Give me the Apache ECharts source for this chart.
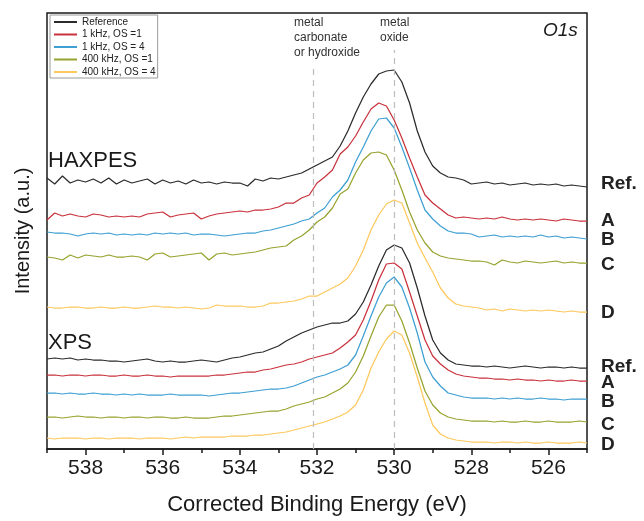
<!DOCTYPE html>
<html>
<head>
<meta charset="utf-8">
<title>O1s HAXPES / XPS</title>
<script src="https://cdn.jsdelivr.net/npm/echarts@6/dist/echarts.min.js"></script>
<style>
    html, body { margin: 0; padding: 0; background: #fff; }
    #chartMain { width: 644px; height: 521px; }
</style>
</head>
<body>
<div id="chartMain"></div>
<script>
    // binding energy grid (eV), shared by all curves
    const energy = [539.0,538.8,538.6,538.4,538.2,538.0,537.8,537.6,537.4,537.2,537.0,536.8,536.6,536.4,536.2,536.0,
        535.8,535.6,535.4,535.2,535.0,534.8,534.6,534.4,534.2,534.0,533.8,533.6,533.4,533.2,533.0,532.8,532.6,532.4,
        532.2,532.0,531.8,531.6,531.4,531.2,531.0,530.8,530.6,530.4,530.2,530.0,529.8,529.6,529.4,529.2,529.0,528.8,
        528.6,528.4,528.2,528.0,527.8,527.6,527.4,527.2,527.0,526.8,526.6,526.4,526.2,526.0,525.8,525.6,525.4,525.2,525.0];

    // HAXPES curves (offset intensity, a.u.)
    const haxRef = [271,265,273,266,269,267,270,266,271,265,269,266,268,270,265,269,266,268,265,269,266,267,265,267,266,
        266,263,270,268,271,270,272,274,276,280,284,288,292,303,318,336,352,365,375,378,379,367,346,318,297,283,276,272,271,269,265,266,
        267,265,266,264,265,266,264,265,264,265,263,264,263,262];
    const haxA = [229,236,233,235,233,232,235,234,232,233,232,233,232,235,236,237,232,234,235,236,230,233,235,236,237,
        238,237,239,239,240,242,246,246,251,254,266,272,279,295,302,313,327,340,346,343,329,311,291,272,254,246,240,234,231,232,231,230,
        231,230,232,230,229,230,229,230,229,228,230,229,228,228];
    const haxB = [217,216,216,215,213,215,216,215,216,214,215,214,215,214,216,215,216,215,216,214,215,215,214,213,214,
        215,216,216,218,219,221,223,225,228,230,236,241,252,259,269,287,302,318,330,331,321,302,281,259,239,230,223,218,216,216,215,212,
        213,214,212,213,212,213,212,214,212,213,211,212,211,210];
    const haxC = [192,191,189,194,191,194,193,192,194,192,192,193,192,189,195,196,192,193,194,195,196,189,195,196,194,
        195,196,197,199,201,202,203,209,213,219,227,232,241,255,260,276,289,296,297,294,279,259,237,219,206,197,193,191,190,189,188,188,
        187,184,189,187,186,188,187,186,187,188,186,187,186,186];
    const haxD = [142,141,141,142,142,141,141,142,141,141,142,141,141,142,143,142,142,141,142,141,140,141,144,143,143,
        143,142,142,143,146,146,147,148,150,153,153,157,161,165,171,183,199,219,234,245,249,246,226,206,191,177,161,151,145,143,142,141,
        139,140,138,140,139,138,139,138,139,138,137,138,137,137];

    // XPS curves
    const xpsRef = [90,91,90,91,89,90,89,89,88,88,87,88,89,90,88,87,88,87,87,88,89,88,87,89,91,
        92,94,96,97,100,103,108,112,116,119,122,124,126,126,128,135,147,164,183,199,204,201,186,161,133,109,96,89,85,84,83,83,
        82,83,82,81,82,83,82,81,82,82,81,82,81,81];
    const xpsA = [74,74,73,74,74,73,74,74,73,73,74,73,73,74,73,73,72,73,73,73,73,73,74,74,75,
        76,77,77,79,80,82,84,85,87,90,92,94,96,101,107,114,129,148,169,185,186,180,157,133,109,93,85,79,75,73,72,71,
        71,70,70,69,70,69,69,68,69,68,68,69,68,68];
    const xpsB = [56,56,55,56,55,55,56,55,55,54,55,54,55,54,54,54,55,54,54,54,54,53,54,55,56,
        56,57,58,59,60,60,61,63,66,69,72,74,77,80,84,94,113,133,152,166,172,162,141,116,87,72,63,56,54,52,51,51,
        51,50,51,50,51,50,50,51,50,50,49,50,50,50];
    const xpsC = [32,32,31,32,33,32,32,31,32,32,31,32,32,31,32,32,31,31,32,31,31,31,32,33,33,
        34,35,36,37,38,38,40,43,45,47,50,52,56,60,66,77,93,113,132,144,144,128,106,81,58,44,36,32,30,29,28,28,
        28,27,28,27,27,28,27,27,28,27,27,27,28,27];
    const xpsD = [11,10,11,11,11,10,11,11,10,11,11,11,10,11,11,11,10,11,12,11,12,12,12,12,13,
        13,13,14,14,15,16,17,19,21,23,25,27,30,33,37,44,59,81,97,110,118,114,96,72,46,24,15,11,9,8,7,7,
        7,6,7,7,6,7,6,6,7,6,6,6,7,6];

    const names = ['Reference', '1 kHz, OS =1', '1 kHz, OS = 4', '400 kHz, OS =1', '400 kHz, OS = 4'];
    const tags = ['Ref.', 'A', 'B', 'C', 'D'];
    const majorTicks = [526, 528, 530, 532, 534, 536, 538];
    const minorTicks = [525, 527, 529, 531, 533, 535, 537, 539];

    // reference energies (dashed lines) and how high they reach
    const refEnergy = [532.1, 530.0];
    const refTop = [382, 399];

    const colors = ['#2b2b2b', '#c9323c', '#3d9fd2', '#97a32e', '#fdc85c'];
    const font = '"Liberation Sans", Arial, sans-serif';

    let myChart = echarts.init(document.getElementById('chartMain'));

    function makeSeries(idx, values, tag, dy) {
        let last = energy.length - 1;
        return {
            name: names[idx],
            type: 'line',
            symbol: 'none',
            data: energy.map((e, i) => [e, values[i]]),
            lineStyle: { color: colors[idx], width: 1.25 },
            itemStyle: { color: colors[idx] },
            markPoint: {
                silent: true,
                symbol: 'circle',
                symbolSize: 0,
                data: [{ coord: [energy[last], values[last]] }],
                label: {
                    show: true, position: 'right', distance: 14, offset: [0, dy],
                    formatter: tag, fontSize: 19, fontWeight: 'bold', color: '#222', fontFamily: font
                }
            }
        };
    }

    let series = [
        makeSeries(0, haxRef, tags[0], -3),
        makeSeries(1, haxA, tags[1], 0),
        makeSeries(2, haxB, tags[2], 1),
        makeSeries(3, haxC, tags[3], 2),
        makeSeries(4, haxD, tags[4], 1),
        makeSeries(0, xpsRef, tags[0], -1),
        makeSeries(1, xpsA, tags[1], 2),
        makeSeries(2, xpsB, tags[2], 3),
        makeSeries(3, xpsC, tags[3], 3),
        makeSeries(4, xpsD, tags[4], 2)
    ];

    series[0].markLine = {
        silent: true,
        symbol: ['none', 'none'],
        label: { show: false },
        lineStyle: { color: '#bdbdbd', type: [6, 5], width: 1.2 },
        data: refEnergy.map((e, i) => [{ coord: [e, 0] }, { coord: [e, refTop[i]] }])
    };

    myChart.setOption({
        animation: false,
        textStyle: { fontFamily: font },
        grid: { left: 47, right: 57, top: 13, bottom: 72, show: true, borderColor: '#1a1a1a', borderWidth: 1.5 },
        legend: {
            data: names,
            orient: 'vertical',
            left: 50, top: 15,
            padding: [2, 2, 1, 3],
            itemWidth: 23, itemHeight: 10, itemGap: 2.5,
            itemStyle: { opacity: 0 },
            borderColor: '#9a9a9a', borderWidth: 1,
            backgroundColor: '#fff',
            textStyle: { fontSize: 10, color: '#222', lineHeight: 10 }
        },
        xAxis: [
            {
                type: 'value', min: 525, max: 539, inverse: true,
                name: 'Corrected Binding Energy (eV)',
                nameLocation: 'middle', nameGap: 45,
                nameTextStyle: { fontSize: 22, color: '#1a1a1a' },
                axisLine: { lineStyle: { color: '#1a1a1a', width: 1.5 } },
                axisTick: { customValues: majorTicks, length: 6, lineStyle: { color: '#1a1a1a', width: 1.5 } },
                axisLabel: { customValues: majorTicks, fontSize: 21, margin: 9, color: '#1a1a1a' },
                splitLine: { show: false }
            },
            {
                type: 'value', min: 525, max: 539, inverse: true, position: 'bottom',
                axisLine: { show: false },
                axisTick: { customValues: minorTicks, length: 4, lineStyle: { color: '#1a1a1a', width: 1.5 } },
                axisLabel: { show: false },
                splitLine: { show: false }
            }
        ],
        yAxis: {
            type: 'value', min: 0, max: 436,
            name: 'Intensity (a.u.)',
            nameLocation: 'middle', nameGap: 14,
            nameTextStyle: { fontSize: 20, color: '#1a1a1a' },
            axisLine: { show: false },
            axisTick: { show: false },
            axisLabel: { show: false },
            splitLine: { show: false }
        },
        graphic: [
            { type: 'text', left: 48, top: 150, style: { text: 'HAXPES', fill: '#1a1a1a', font: '22px ' + font } },
            { type: 'text', left: 48, top: 332, style: { text: 'XPS', fill: '#1a1a1a', font: '22px ' + font } },
            { type: 'text', left: 294, top: 15, style: { text: 'metal\ncarbonate\nor hydroxide', font: '12px ' + font, lineHeight: 15, fill: '#333' } },
            { type: 'text', left: 380, top: 15, style: { text: 'metal\noxide', font: '12px ' + font, lineHeight: 15, fill: '#333' } },
            { type: 'text', left: 543, top: 21, style: { text: 'O1s', font: 'italic 19px ' + font, fill: '#1a1a1a' } }
        ],
        series: series
    });
</script>
</body>
</html>
